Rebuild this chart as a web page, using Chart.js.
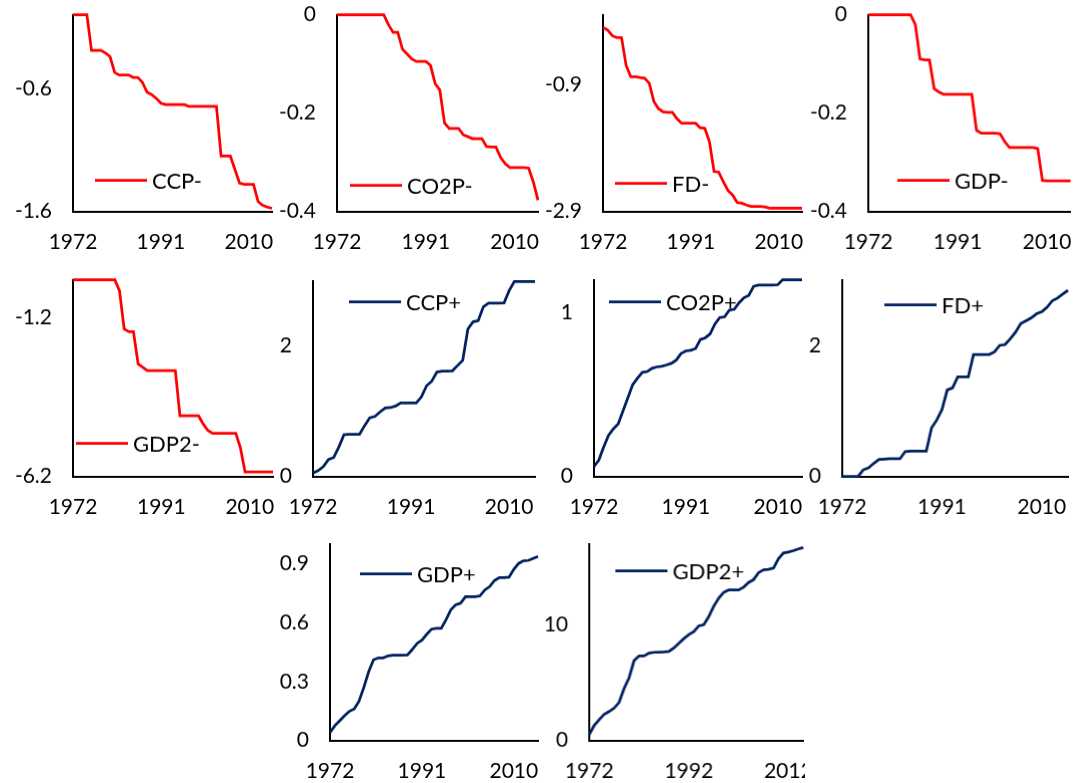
<!DOCTYPE html>
<html><head><meta charset="utf-8">
<script src="https://cdn.jsdelivr.net/npm/chart.js@4.4.1/dist/chart.umd.min.js"></script>
<style>
html,body{margin:0;padding:0;background:#fff;}
body{width:1077px;height:783px;overflow:hidden;position:relative;}
canvas{position:absolute;}
</style>
</head><body>
<script>
// ---- categories ----
const years = [1972,1973,1974,1975,1976,1977,1978,1979,1980,1981,1982,1983,1984,1985,1986,1987,1988,1989,1990,1991,1992,1993,1994,1995,1996,1997,1998,1999,2000,2001,2002,2003,2004,2005,2006,2007,2008,2009,2010,2011,2012,2013,2014,2015];

// ---- series values ----
const ccpNeg = [0,0,0,0,-0.29,-0.29,-0.29,-0.31,-0.34,-0.47,-0.49,-0.49,-0.49,-0.51,-0.51,-0.55,-0.63,-0.65,-0.68,-0.72,-0.73,-0.73,-0.73,-0.73,-0.73,-0.745,-0.745,-0.745,-0.745,-0.745,-0.745,-0.745,-1.15,-1.15,-1.15,-1.26,-1.37,-1.38,-1.38,-1.38,-1.52,-1.55,-1.565,-1.575];
const co2pNeg = [0,0,0,0,0,0,0,0,0,0,0,-0.02,-0.036,-0.036,-0.07,-0.08,-0.09,-0.095,-0.095,-0.095,-0.103,-0.14,-0.153,-0.22,-0.231,-0.231,-0.231,-0.244,-0.248,-0.252,-0.252,-0.252,-0.268,-0.269,-0.269,-0.29,-0.303,-0.311,-0.311,-0.311,-0.311,-0.312,-0.34,-0.377];
const fdNeg = [0,-0.04,-0.13,-0.16,-0.16,-0.6,-0.777,-0.777,-0.79,-0.8,-0.88,-1.17,-1.28,-1.33,-1.34,-1.34,-1.44,-1.51,-1.51,-1.51,-1.51,-1.58,-1.59,-1.8,-2.27,-2.28,-2.43,-2.57,-2.64,-2.76,-2.77,-2.8,-2.82,-2.82,-2.82,-2.83,-2.85,-2.85,-2.85,-2.85,-2.85,-2.85,-2.85,-2.85];
const gdpNeg = [0,0,0,0,0,0,0,0,0,0,-0.02,-0.09,-0.092,-0.092,-0.15,-0.157,-0.162,-0.162,-0.162,-0.162,-0.162,-0.162,-0.162,-0.235,-0.241,-0.241,-0.241,-0.241,-0.242,-0.258,-0.27,-0.27,-0.27,-0.27,-0.27,-0.27,-0.272,-0.337,-0.338,-0.338,-0.338,-0.338,-0.338,-0.338];
const gdp2Neg = [0,0,0,0,0,0,0,0,0,0,-0.35,-1.55,-1.64,-1.64,-2.65,-2.76,-2.86,-2.86,-2.86,-2.86,-2.86,-2.86,-2.86,-4.29,-4.29,-4.29,-4.29,-4.29,-4.55,-4.75,-4.84,-4.84,-4.84,-4.84,-4.84,-4.84,-5.3,-6.06,-6.06,-6.06,-6.06,-6.06,-6.06,-6.06];
const ccpPos = [0.05,0.09,0.15,0.26,0.29,0.45,0.64,0.646,0.646,0.646,0.78,0.9,0.92,0.99,1.05,1.056,1.08,1.128,1.128,1.128,1.128,1.22,1.39,1.46,1.6,1.615,1.615,1.62,1.7,1.78,2.26,2.37,2.39,2.6,2.656,2.656,2.656,2.66,2.85,2.99,2.99,2.99,2.99,2.99];
const co2pPos = [0.06,0.1,0.18,0.25,0.29,0.32,0.4,0.48,0.56,0.6,0.635,0.64,0.66,0.668,0.672,0.68,0.69,0.71,0.75,0.766,0.77,0.78,0.835,0.846,0.87,0.93,0.97,0.974,1.015,1.02,1.06,1.09,1.105,1.16,1.168,1.168,1.168,1.168,1.17,1.2,1.2,1.2,1.2,1.2];
const fdPos = [0,0,0,0,0.1,0.13,0.2,0.26,0.265,0.27,0.27,0.27,0.38,0.385,0.385,0.385,0.385,0.74,0.86,1.02,1.32,1.35,1.52,1.52,1.52,1.86,1.86,1.86,1.86,1.9,2.0,2.01,2.1,2.2,2.33,2.374,2.42,2.48,2.51,2.58,2.68,2.72,2.78,2.84];
const gdpPos = [0.04,0.075,0.1,0.125,0.148,0.16,0.2,0.27,0.35,0.41,0.42,0.42,0.43,0.434,0.434,0.434,0.435,0.462,0.493,0.51,0.54,0.566,0.57,0.57,0.615,0.665,0.69,0.698,0.731,0.731,0.731,0.735,0.765,0.782,0.813,0.828,0.828,0.83,0.87,0.9,0.913,0.915,0.925,0.935];
const gdp2Pos = [0.5,1.3,1.8,2.25,2.5,2.8,3.3,4.5,5.4,6.9,7.3,7.3,7.55,7.62,7.64,7.65,7.7,7.99,8.4,8.8,9.15,9.4,9.9,10.0,10.7,11.6,12.3,12.8,13.0,13.0,13.0,13.25,13.65,13.9,14.5,14.75,14.78,14.9,15.7,16.2,16.29,16.4,16.55,16.67];

// ---- tick labels ----
const ticksCcpNeg = [-1.6,-0.6];
const ticksCo2pNeg = [-0.4,-0.2,0];
const ticksFdNeg = [-2.9,-0.9];
const ticksGdpNeg = [-0.4,-0.2,0];
const ticksGdp2Neg = [-6.2,-1.2];
const ticksCcpPos = [0,2];
const ticksCo2pPos = [0,1];
const ticksFdPos = [0,2];
const ticksGdpPos = [0,0.3,0.6,0.9];
const ticksGdp2Pos = [0,10];

// ---- series names ----
const names = ['CCP-','CO2P-','FD-','GDP-','GDP2-','CCP+','CO2P+','FD+','GDP+','GDP2+'];

// ---- styles & layout (not data) ----
const RED = '#FF0000', NAVY = '#002060';
const FONT_FAMILY = 'Lato, "Open Sans", sans-serif';
const TICK_SIZE = 21, LEGEND_SIZE = 22;
const PAD_L = 75, PAD_B = 50;

const panels = [
  {name:names[0], values:ccpNeg,  color:RED,  yMin:-1.6, yMax:0,   ticks:ticksCcpNeg,  xStep:19, ax:73,  right:272,  top:15,  bottom:211, padR:25, lx:22, ly:165},
  {name:names[1], values:co2pNeg, color:RED,  yMin:-0.4, yMax:0,   ticks:ticksCo2pNeg, xStep:19, ax:337, right:538,  top:15,  bottom:211, padR:25, lx:13, ly:170},
  {name:names[2], values:fdNeg,   color:RED,  yMin:-2.9, yMax:0.2, ticks:ticksFdNeg,   xStep:19, ax:603, right:802,  top:15,  bottom:211, padR:25, lx:12, ly:168},
  {name:names[3], values:gdpNeg,  color:RED,  yMin:-0.4, yMax:0,   ticks:ticksGdpNeg,  xStep:19, ax:868, right:1068, top:15,  bottom:211, padR:9,  lx:29, ly:165},
  {name:names[4], values:gdp2Neg, color:RED,  yMin:-6.2, yMax:0,   ticks:ticksGdp2Neg, xStep:19, ax:73,  right:273,  top:280, bottom:476, padR:25, lx:3,  ly:163},
  {name:names[5], values:ccpPos,  color:NAVY, yMin:0,    yMax:3,   ticks:ticksCcpPos,  xStep:19, ax:313, right:535,  top:281, bottom:476, padR:25, lx:36, ly:21},
  {name:names[6], values:co2pPos, color:NAVY, yMin:0,    yMax:1.2, ticks:ticksCo2pPos, xStep:19, ax:594, right:802,  top:280, bottom:476, padR:25, lx:15, ly:22},
  {name:names[7], values:fdPos,   color:NAVY, yMin:0,    yMax:3,   ticks:ticksFdPos,   xStep:19, ax:842, right:1066, top:280, bottom:476, padR:11, lx:42, ly:25},
  {name:names[8], values:gdpPos,  color:NAVY, yMin:0,    yMax:1.0, ticks:ticksGdpPos,  xStep:19, ax:330, right:538,  top:544, bottom:740, padR:25, lx:30, ly:30},
  {name:names[9], values:gdp2Pos, color:NAVY, yMin:0,    yMax:17,  ticks:ticksGdp2Pos, xStep:20, ax:589, right:802,  top:544, bottom:740, padR:25, lx:26, ly:27, clipAt:804}
];

const inlineLegend = {
  id: 'inlineLegend',
  afterDatasetsDraw(chart, args, opts) {
    const ds = chart.data.datasets[0];
    const ctx = chart.ctx, a = chart.chartArea;
    const x = a.left + opts.dx, y = a.top + opts.dy;
    ctx.save();
    ctx.strokeStyle = ds.borderColor;
    ctx.lineWidth = ds.borderWidth;
    ctx.beginPath(); ctx.moveTo(x, y); ctx.lineTo(x + opts.len, y); ctx.stroke();
    ctx.fillStyle = '#000';
    ctx.font = LEGEND_SIZE + 'px ' + FONT_FAMILY;
    ctx.textAlign = 'left'; ctx.textBaseline = 'middle';
    ctx.fillText(ds.label, x + opts.len + opts.gap, y + 1);
    ctx.restore();
  }
};

panels.forEach(p => {
  const c = document.createElement('canvas');
  const w = PAD_L + (p.right - p.ax) + p.padR;
  const h = (p.bottom - p.top) + PAD_B + 14;
  c.width = w; c.height = h;
  c.style.width = w + 'px'; c.style.height = h + 'px';
  document.body.appendChild(c);
  const chart = new Chart(c, {
    type: 'line',
    data: {
      labels: years,
      datasets: [{label: p.name, data: p.values, borderColor: p.color, backgroundColor: p.color,
        borderWidth: 2.75, pointRadius: 0, tension: 0, clip: false, fill: false}]
    },
    options: {
      responsive: false, maintainAspectRatio: false, animation: false, devicePixelRatio: 1,
      layout: {padding: {left: 0, top: 0, right: p.padR, bottom: 0}},
      plugins: {legend: {display: false}, tooltip: {enabled: false},
        inlineLegend: {dx: p.lx, dy: p.ly, len: 52, gap: 5}},
      scales: {
        x: {
          type: 'category', offset: false,
          grid: {display: true, drawOnChartArea: false, drawTicks: false, color: 'transparent'},
          border: {display: true, color: '#000', width: 2},
          ticks: {autoSkip: false, maxRotation: 0, minRotation: 0, padding: 18, color: '#000',
            font: {family: FONT_FAMILY, size: TICK_SIZE},
            callback: function(v, i) { return i % p.xStep === 0 ? String(years[i]) : null; }},
          afterFit: s => { s.height = PAD_B; }
        },
        y: {
          type: 'linear', min: p.yMin, max: p.yMax,
          grid: {display: true, drawOnChartArea: false, drawTicks: false, color: 'transparent'},
          border: {display: true, color: '#000', width: 2},
          afterBuildTicks: s => { s.ticks = p.ticks.map(v => ({value: v})); },
          ticks: {padding: 21, color: '#000', font: {family: FONT_FAMILY, size: TICK_SIZE},
            callback: v => String(v)},
          afterFit: s => { s.width = PAD_L; }
        }
      }
    },
    plugins: [inlineLegend]
  });
  // make the plot area exactly the wanted size, then place the canvas
  let a = chart.chartArea;
  const dh = (p.bottom - p.top) - (a.bottom - a.top);
  const dw = (p.right - p.ax) - (a.right - a.left);
  if (dh !== 0 || dw !== 0) { chart.resize(w + dw, h + dh); }
  a = chart.chartArea;
  const left = p.ax - a.left, top = p.top - a.top;
  c.style.left = left + 'px';
  c.style.top = top + 'px';
  if (p.clipAt) {
    const cut = Math.max(0, left + c.width - p.clipAt);
    c.style.clipPath = 'inset(0 ' + cut + 'px 0 0)';
  }
});
</script>
</body></html>
